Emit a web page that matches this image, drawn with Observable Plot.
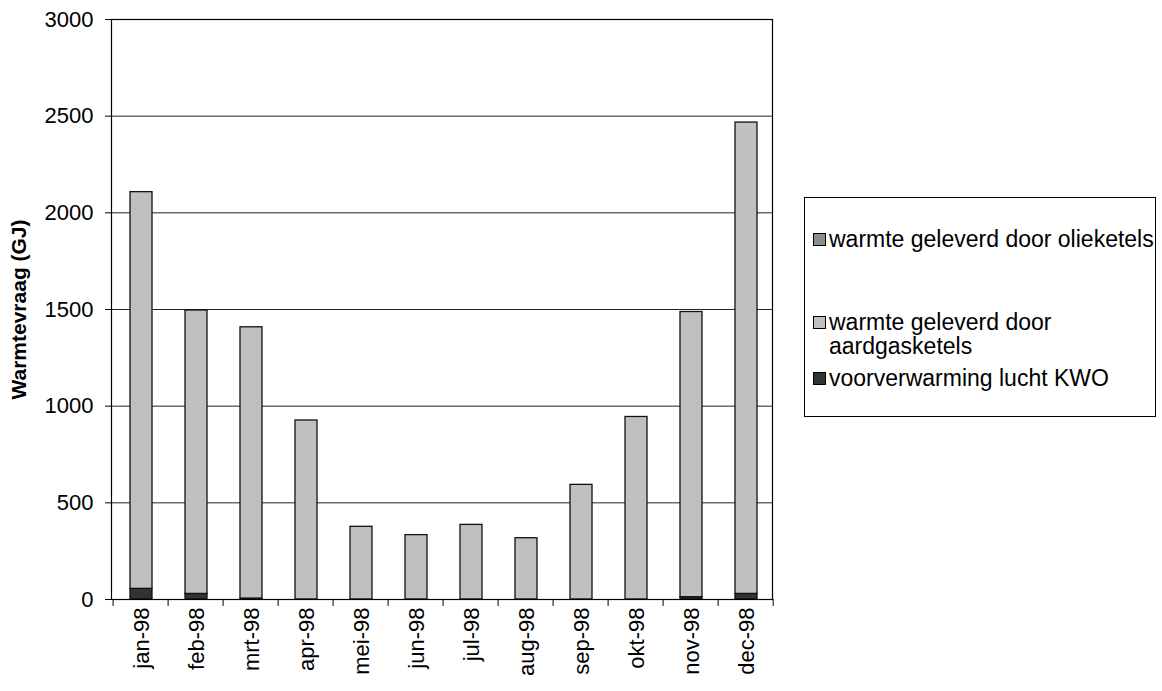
<!DOCTYPE html>
<html>
<head>
<meta charset="utf-8">
<script src="https://cdn.jsdelivr.net/npm/d3@7"></script>
<script src="https://cdn.jsdelivr.net/npm/@observablehq/plot@0.6"></script>
<style>
  html, body { margin: 0; padding: 0; background: #fff; }
  #wrap { position: relative; width: 1162px; height: 691px; font-family: "Liberation Sans", Arial, sans-serif; }
  #wrap g[aria-label="y-axis label"] { font-weight: bold; font-size: 21px; }
  #legend { position: absolute; left: 804px; top: 197px; width: 352px; height: 220px; border: 1px solid #000; box-sizing: border-box; font-size: 23px; color: #000; }
  .item { position: absolute; left: 8px; display: flex; align-items: flex-start; line-height: 24px; }
  .sw { width: 11px; height: 11px; border: 1px solid #000; margin-top: 6px; margin-right: 3px; flex: none; }
</style>
</head>
<body>
<div id="wrap"></div>
<script>
const months = ["jan-98","feb-98","mrt-98","apr-98","mei-98","jun-98","jul-98","aug-98","sep-98","okt-98","nov-98","dec-98"];
const olieketels = [0,0,0,0,0,0,0,0,0,0,0,0];
const aardgasketels = [2052,1466,1403,926,376,333,386,317,593,944,1475,2438];
const kwo = [55,29,5,0,0,0,0,0,0,0,12,29];
const yTicks = [0,500,1000,1500,2000,2500,3000];

const seriesNames = ["voorverwarming lucht KWO","warmte geleverd door aardgasketels","warmte geleverd door olieketels"];
const seriesColors = ["#333333","#c0c0c0","#8c8c8c"];
const seriesValues = [kwo, aardgasketels, olieketels];

const rows = [];
months.forEach((m, i) => {
  seriesNames.forEach((s, j) => rows.push({month: m, series: s, order: j, value: seriesValues[j][i]}));
});

const chart = Plot.plot({
  width: 1162,
  height: 691,
  marginLeft: 111,
  marginRight: 390,
  marginTop: 19,
  marginBottom: 92,
  style: {fontFamily: "Liberation Sans, Arial, sans-serif", fontSize: "22px", color: "#000", background: "#fff"},
  x: {type: "band", domain: months, paddingInner: 0.6, paddingOuter: 0.3, align: 0.55},
  y: {domain: [0, 3000]},
  color: {domain: seriesNames, range: seriesColors},
  marks: [
    Plot.ruleY(yTicks, {stroke: "#222", strokeWidth: 1}),
    Plot.barY(rows, Plot.stackY({
      x: "month", y: "value", fill: "series", order: seriesNames,
      filter: d => d.value > 0,
      stroke: "#111", strokeWidth: 1.3
    })),
    Plot.frame({stroke: "#000", strokeWidth: 1.2}),
    Plot.axisY({ticks: yTicks, tickSize: 6, tickPadding: 12, tickFormat: d => String(d),
      label: "Warmtevraag (GJ)", labelAnchor: "center", labelArrow: "none", labelOffset: 100, fontSize: 22}),
    Plot.axisX({tickSize: 0, tickPadding: 8, tickRotate: -90, label: null, fontSize: 22}),
    Plot.ruleX(months, {x: d => d, dx: -28.4, y1: 0, y2: -36, stroke: "#000"}),
    Plot.ruleX(months.slice(-1), {x: d => d, dx: 26.7, y1: 0, y2: -36, stroke: "#000"})
  ]
});
document.getElementById("wrap").appendChild(chart);

// Legend (HTML)
const legend = document.createElement("div");
legend.id = "legend";
const legendItems = [
  {lines: ["warmte geleverd door olieketels"], color: "#8c8c8c", top: 29},
  {lines: ["warmte geleverd door", "aardgasketels"], color: "#c0c0c0", top: 112},
  {lines: ["voorverwarming lucht KWO"], color: "#333333", top: 168}
];
legendItems.forEach(it => {
  const row = document.createElement("div");
  row.className = "item";
  row.style.top = it.top + "px";
  const sw = document.createElement("div");
  sw.className = "sw";
  sw.style.background = it.color;
  const tx = document.createElement("div");
  tx.innerHTML = it.lines.join("<br>");
  row.appendChild(sw);
  row.appendChild(tx);
  legend.appendChild(row);
});
document.getElementById("wrap").appendChild(legend);
</script>
</body>
</html>
